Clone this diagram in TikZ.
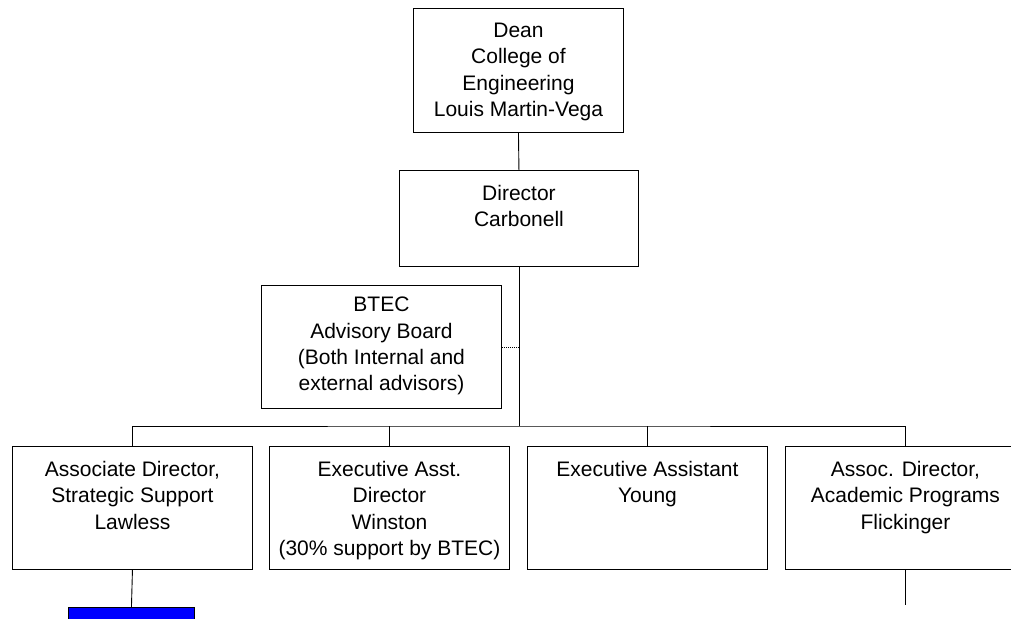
\documentclass[tikz,border=0pt]{standalone}
\usepackage{fontspec}
\setmainfont{Liberation Sans}
\begin{document}
\begin{tikzpicture}[x=1pt,y=-1pt,
  box/.style={draw,line width=0.9pt,minimum width=240pt,minimum height=123pt,inner sep=0pt,anchor=north west},
  txt/.style={align=center,inner sep=0pt,anchor=north,font=\fontsize{21}{26.3}\selectfont},
  conn/.style={line width=0.9pt}]
\useasboundingbox (0,0) rectangle (1011,618);
\clip (0,0) rectangle (1011,618);
% boxes
\node[box,minimum width=210pt,minimum height=124pt] (dean) at (413,8) {};
\node[box,minimum width=239pt,minimum height=96pt] (dir) at (399,170) {};
\node[box] (btec) at (261,285) {};
\node[box] (b1) at (12,446) {};
\node[box] (b2) at (269,446) {};
\node[box] (b3) at (527,446) {};
\node[box] (b4) at (785,446) {};
\node[draw,line width=0.9pt,fill=blue,minimum width=126pt,minimum height=20pt,inner sep=0pt,anchor=north west] (blue) at (68,607) {};
% texts
\node[txt] (tdean) at ([yshift=-15pt]dean.north) {Dean\\College of\\Engineering\\Louis Martin-Vega};
\node[txt] (tdir) at ([yshift=-15pt]dir.north) {Director\\Carbonell};
\node[txt] (tbtec) at ([yshift=-12pt]btec.north) {BTEC\\Advisory Board\\(Both Internal and\\external advisors)};
\node[txt] (tb1) at ([yshift=-15pt]b1.north) {Associate Director,\\Strategic Support\\Lawless};
\node[txt] (tb2) at ([yshift=-15pt]b2.north) {Executive Asst.\\Director\\Winston\\(30\% support by BTEC)};
\node[txt] (tb3) at ([yshift=-15pt]b3.north) {Executive Assistant\\Young};
\node[txt] (tb4) at ([yshift=-15pt]b4.north) {Assoc. Director,\\Academic Programs\\Flickinger};
% connectors
\coordinate (bus) at (dir.south |- 0,426);
\coordinate (end4) at (b4.south |- 0,605);
\draw[conn] (dean.south) -- (dir.north);
\draw[conn] (dir.south) -- (bus);
\draw[conn] (b1.north) |- (bus) -| (b4.north);
\draw[conn] (b2.north) -- (b2.north |- bus);
\draw[conn] (b3.north) -- (b3.north |- bus);
\draw[conn,dash pattern=on 1pt off 1pt] (btec.east) -- (btec.east -| dir.south);
\draw[conn] (b1.south) -- (blue.north);
\draw[conn] (b4.south) -- (end4);
\end{tikzpicture}
\end{document}
